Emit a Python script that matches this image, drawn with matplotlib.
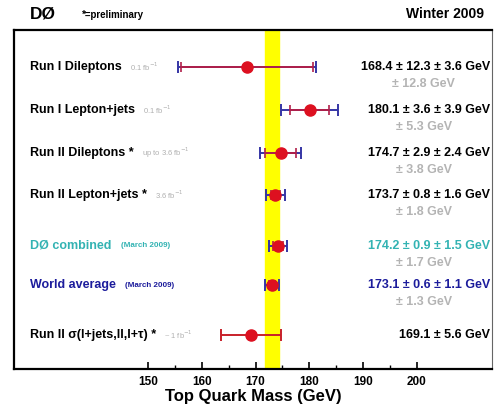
import numpy as np
import matplotlib
matplotlib.use('Agg')
import matplotlib.pyplot as plt
import matplotlib.transforms as mtransforms

plt.rcParams['font.family'] = ['Liberation Sans', 'DejaVu Sans']

# Measurements (GeV)
labels = ['Run I Dileptons', 'Run I Lepton+jets', 'Run II Dileptons *',
          'Run II Lepton+jets *', 'DØ combined', 'World average',
          'Run II σ(l+jets,ll,l+τ) *']
lumi = [r'0.1 fb$^{-1}$', r'0.1 fb$^{-1}$', r'up to 3.6 fb$^{-1}$',
        r'3.6 fb$^{-1}$', '(March 2009)', '(March 2009)', r'~ 1 fb$^{-1}$']
mass = [168.4, 180.1, 174.7, 173.7, 174.2, 173.1, 169.1]
stat = [12.3, 3.6, 2.9, 0.8, 0.9, 0.6, 5.6]
syst = [3.6, 3.9, 2.4, 1.6, 1.5, 1.1, None]
total = [12.8, 5.3, 3.8, 1.8, 1.7, 1.3, None]
label_colors = ['black', 'black', 'black', 'black', '#33b3b3', '#1c1c9c', 'black']

# row positions (layout)
ypos = [0, 1, 2, 2.98, 4.16, 5.07, 6.23]

world = 173.1
world_err = 1.3

fig = plt.figure(figsize=(4.94, 4.11), dpi=100)
ax = fig.add_axes([14/494, 1 - 369/411, 478/494, 339/411])
ax.set_xlim(125.05, 214.0)
ax.set_ylim(7.02, -0.86)

# world average band
ax.axvspan(world - world_err, world + world_err, color='#ffff00', zorder=0)

red = '#dd1020'
blue = '#3535a5'
trans = mtransforms.blended_transform_factory(ax.transAxes, ax.transData)
for i in range(len(mass)):
    y = ypos[i]
    if total[i] is not None:
        ax.errorbar(mass[i], y, xerr=total[i], fmt='none', ecolor=blue,
                    elinewidth=1.4, capsize=4.5, capthick=1.4, zorder=2)
        ax.errorbar(mass[i], y, xerr=stat[i], fmt='none', ecolor='#b0204a',
                    elinewidth=1.4, capsize=3.5, capthick=1.2, zorder=3)
    else:
        ax.errorbar(mass[i], y, xerr=stat[i], fmt='none', ecolor='#c8202a',
                    elinewidth=1.4, capsize=4.5, capthick=1.4, zorder=3)
    ax.plot(mass[i], y, 'o', color=red, markersize=8, zorder=4)

    # left labels
    t = ax.text(0.033, y, labels[i], transform=trans, ha='left', va='center',
                fontsize=9, fontweight='bold', color=label_colors[i])
    special = i in (4, 5)
    ax.annotate(lumi[i], xy=(1, 0.5), xycoords=t,
                xytext=(7 if special else 6, 0),
                textcoords='offset points', ha='left', va='center',
                fontsize=5.8 if special else 5.5,
                color=label_colors[i] if special else '#b0b0b0',
                fontweight='bold' if special else 'normal')

    # right value text
    if syst[i] is not None:
        txt = f'{mass[i]:.1f} ± {stat[i]:.1f} ± {syst[i]:.1f} GeV'
    else:
        txt = f'{mass[i]:.1f} ± {stat[i]:.1f} GeV'
    ax.text(0.996, y, txt, transform=trans, ha='right', va='center',
            fontsize=9, fontweight='bold', color=label_colors[i])
    if total[i] is not None:
        ax.text(0.857, y + 0.4, f'± {total[i]:.1f} GeV', transform=trans,
                ha='center', va='center', fontsize=9, fontweight='bold',
                color='#b4b4b4')

# axes styling
ax.set_yticks([])
ax.set_xticks([150, 160, 170, 180, 190, 200])
ax.set_xticks([155, 165, 175, 185, 195], minor=True)
ax.tick_params(axis='x', which='major', direction='in', length=5, width=1.2,
               pad=5, labelsize=8.5)
ax.tick_params(axis='x', which='minor', direction='in', length=3, width=1)
for lab in ax.get_xticklabels():
    lab.set_fontweight('bold')
for side in ['left', 'top', 'bottom']:
    ax.spines[side].set_linewidth(1.6)
ax.spines['right'].set_linewidth(0.8)
ax.spines['right'].set_color('#666666')
ax.set_xlabel('Top Quark Mass (GeV)', fontsize=12, fontweight='bold',
              labelpad=1)

# header
fig.text(30/494, 1 - 14/411, 'DØ', fontsize=12.5, fontweight='bold',
         ha='left', va='center')
fig.text(82/494, 1 - 15/411, '*=preliminary', fontsize=7, fontweight='bold',
         ha='left', va='center')
fig.text(484/494, 1 - 14/411, 'Winter 2009', fontsize=10, fontweight='bold',
         ha='right', va='center')

fig.savefig('out.png', dpi=100)
